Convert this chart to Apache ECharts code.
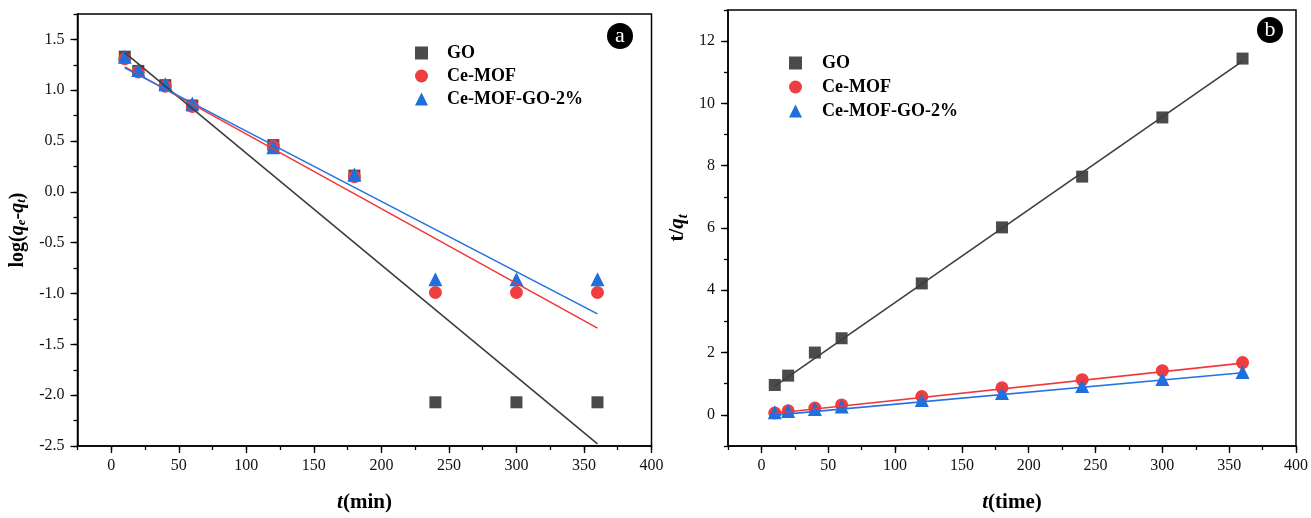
<!DOCTYPE html>
<html>
<head>
<meta charset="utf-8">
<script src="https://cdn.jsdelivr.net/npm/echarts@6/dist/echarts.min.js"></script>
<style>
  html, body { margin: 0; padding: 0; background: #ffffff; }
  #chart { width: 1311px; height: 518px; }
</style>
</head>
<body>
<div id="chart"></div>
<script>
// Sampling times (min)
const times = [10, 20, 40, 60, 120, 180, 240, 300, 360];
const seriesNames = ['GO', 'Ce-MOF', 'Ce-MOF-GO-2%'];

// (a) pseudo-first-order plot: log(qe - qt)
const logGO      = [1.33, 1.19, 1.05, 0.85, 0.46, 0.16, -2.07, -2.07, -2.07];
const logCeMOF   = [1.31, 1.18, 1.04, 0.84, 0.45, 0.15, -0.99, -0.99, -0.99];
const logCeMOFGO = [1.33, 1.20, 1.06, 0.87, 0.44, 0.17, -0.86, -0.86, -0.86];

// linear fits, evaluated at the first and last sampling time
const fitTimes = [10, 360];
const logFitGO      = [1.37, -2.48];
const logFitCeMOF   = [1.23, -1.34];
const logFitCeMOFGO = [1.22, -1.20];

// (b) pseudo-second-order plot: t / qt
const tqGO      = [0.96, 1.26, 2.00, 2.46, 4.22, 6.02, 7.65, 9.55, 11.44];
const tqCeMOF   = [0.06, 0.13, 0.22, 0.32, 0.59, 0.87, 1.13, 1.42, 1.68];
const tqCeMOFGO = [0.08, 0.12, 0.19, 0.27, 0.48, 0.70, 0.93, 1.15, 1.38];

const tqFitGO      = [0.92, 11.36];
const tqFitCeMOF   = [0.05, 1.66];
const tqFitCeMOFGO = [-0.01, 1.35];

// tick labels
const xTicks  = [0, 50, 100, 150, 200, 250, 300, 350, 400];
const yTicksA = [-2.5, -2.0, -1.5, -1.0, -0.5, 0.0, 0.5, 1.0, 1.5];
const yTicksB = [0, 2, 4, 6, 8, 10, 12];

const colors = { GO: '#4b4b4b', 'Ce-MOF': '#ef3d40', 'Ce-MOF-GO-2%': '#1f6fdc' };
const lineColors = { GO: '#3d3d3d', 'Ce-MOF': '#f0383c', 'Ce-MOF-GO-2%': '#2472e0' };
const symbols = { GO: 'rect', 'Ce-MOF': 'circle', 'Ce-MOF-GO-2%': 'triangle' };
const symbolSizes = { GO: 12, 'Ce-MOF': 13, 'Ce-MOF-GO-2%': 14 };

const FONT = '"Liberation Serif", "Times New Roman", serif';

const zip = (xs, ys) => xs.map((x, i) => [x, ys[i]]);

function majorX(gridIndex) {
  return {
    type: 'value', gridIndex, min: -25, max: 400, position: 'bottom',
    axisLine: { show: true, onZero: false, lineStyle: { color: '#000', width: 1.5 } },
    axisTick: { show: true, inside: false, length: 7, customValues: xTicks, lineStyle: { color: '#000', width: 1.3 } },
    axisLabel: { show: true, customValues: xTicks, margin: 12, color: '#111', fontFamily: FONT, fontSize: 16 },
    splitLine: { show: false }
  };
}
function minorX(gridIndex) {
  return {
    type: 'value', gridIndex, min: -25, max: 400, interval: 25, position: 'bottom',
    axisLine: { show: false, onZero: false },
    axisTick: { show: true, inside: false, length: 4, lineStyle: { color: '#000', width: 1.3 } },
    axisLabel: { show: false },
    splitLine: { show: false }
  };
}
function majorY(gridIndex, min, max, ticks, fmt) {
  return {
    type: 'value', gridIndex, min, max, position: 'left',
    axisLine: { show: true, onZero: false, lineStyle: { color: '#000', width: 1.5 } },
    axisTick: { show: true, inside: false, length: 7, customValues: ticks, lineStyle: { color: '#000', width: 1.3 } },
    axisLabel: { show: true, customValues: ticks, margin: 13, color: '#111', fontFamily: FONT, fontSize: 16, formatter: fmt },
    splitLine: { show: false }
  };
}
function minorY(gridIndex, min, max, step) {
  return {
    type: 'value', gridIndex, min, max, interval: step, position: 'left',
    axisLine: { show: false, onZero: false },
    axisTick: { show: true, inside: false, length: 4, lineStyle: { color: '#000', width: 1.3 } },
    axisLabel: { show: false },
    splitLine: { show: false }
  };
}

const nameRich = {
  b:  { fontFamily: FONT, fontWeight: 'bold', fontSize: 20, color: '#000', verticalAlign: 'top', lineHeight: 23 },
  q:  { fontFamily: FONT, fontWeight: 'bold', fontStyle: 'italic', fontSize: 20, color: '#000', verticalAlign: 'top', lineHeight: 23 },
  s:  { fontFamily: FONT, fontWeight: 'bold', fontStyle: 'italic', fontSize: 13, color: '#000', verticalAlign: 'top', lineHeight: 23, padding: [8, 0, 0, 0] },
  bb: { fontFamily: FONT, fontWeight: 'bold', fontSize: 21, color: '#000', verticalAlign: 'top', lineHeight: 24 },
  qq: { fontFamily: FONT, fontWeight: 'bold', fontStyle: 'italic', fontSize: 21, color: '#000', verticalAlign: 'top', lineHeight: 24 },
  ss: { fontFamily: FONT, fontWeight: 'bold', fontStyle: 'italic', fontSize: 14, color: '#000', verticalAlign: 'top', lineHeight: 24, padding: [9, 0, 0, 0] }
};

const xA = majorX(0);
xA.name = '{qq|t}{bb|(min)}';
xA.nameLocation = 'middle'; xA.nameGap = 46;
xA.nameTextStyle = { rich: nameRich };
const xB = majorX(1);
xB.name = '{qq|t}{bb|(time)}';
xB.nameLocation = 'middle'; xB.nameGap = 46;
xB.nameTextStyle = { rich: nameRich };

const yA = majorY(0, -2.5, 1.75, yTicksA, v => v.toFixed(1));
yA.name = '{b|log(}{q|q}{s|e}{b|-}{q|q}{s|t}{b|)}';
yA.nameLocation = 'middle'; yA.nameGap = 47;
yA.nameTextStyle = { rich: nameRich };
const yB = majorY(1, -1, 13, yTicksB, v => String(v));
yB.name = '{bb|t/}{qq|q}{ss|t}';
yB.nameLocation = 'middle'; yB.nameGap = 37;
yB.nameTextStyle = { rich: nameRich };

function scatter(name, xi, yi, values) {
  return {
    name, type: 'scatter', xAxisIndex: xi, yAxisIndex: yi, z: 2,
    symbol: symbols[name], symbolSize: symbolSizes[name],
    itemStyle: { color: colors[name], opacity: 1 },
    data: zip(times, values)
  };
}
function fit(name, xi, yi, values) {
  return {
    name: name + ' fit', type: 'line', xAxisIndex: xi, yAxisIndex: yi, z: 3,
    showSymbol: false, symbol: 'none', silent: true,
    lineStyle: { color: lineColors[name], width: 1.6 },
    data: zip(fitTimes, values)
  };
}

function legend(left, top, gap, pad) {
  return {
    orient: 'vertical', left, top, itemGap: gap, itemWidth: 13, itemHeight: 13,
    selectedMode: false,
    data: seriesNames.map(n => ({ name: n, icon: symbols[n] })),
    textStyle: { fontFamily: FONT, fontWeight: 'bold', fontSize: 18, color: '#000', lineHeight: 20, padding: [0, 0, 0, pad] }
  };
}

function badge(cx, cy, letter) {
  return [
    { type: 'circle', shape: { cx, cy, r: 13 }, style: { fill: '#000' }, z: 10 },
    { type: 'text', x: cx, y: cy, z: 11,
      style: { text: letter, fill: '#fff', font: '22px ' + FONT, align: 'center', verticalAlign: 'middle' } }
  ];
}

const option = {
  backgroundColor: '#ffffff',
  animation: false,
  grid: [
    { left: 77.5, top: 14, right: 659.5, bottom: 66, show: true, borderColor: '#000', borderWidth: 1.5, backgroundColor: 'transparent' },
    { left: 728, top: 10, right: 14, bottom: 70, show: true, borderColor: '#000', borderWidth: 1.5, backgroundColor: 'transparent' }
  ],
  xAxis: [xA, minorX(0), xB, minorX(1)],
  yAxis: [yA, minorY(0, -2.5, 1.75, 0.25), yB, minorY(1, -1, 13, 1)],
  legend: [legend(410, 38, 3, 14), legend(784, 48, 4, 15)],
  graphic: [...badge(620, 36, 'a'), ...badge(1270, 30, 'b')],
  series: [
    scatter('GO', 0, 0, logGO),
    scatter('Ce-MOF', 0, 0, logCeMOF),
    scatter('Ce-MOF-GO-2%', 0, 0, logCeMOFGO),
    fit('GO', 0, 0, logFitGO),
    fit('Ce-MOF', 0, 0, logFitCeMOF),
    fit('Ce-MOF-GO-2%', 0, 0, logFitCeMOFGO),
    scatter('GO', 2, 2, tqGO),
    scatter('Ce-MOF', 2, 2, tqCeMOF),
    scatter('Ce-MOF-GO-2%', 2, 2, tqCeMOFGO),
    fit('GO', 2, 2, tqFitGO),
    fit('Ce-MOF', 2, 2, tqFitCeMOF),
    fit('Ce-MOF-GO-2%', 2, 2, tqFitCeMOFGO)
  ]
};

const chart = echarts.init(document.getElementById('chart'), null, { renderer: 'canvas' });
chart.setOption(option);
</script>
</body>
</html>
